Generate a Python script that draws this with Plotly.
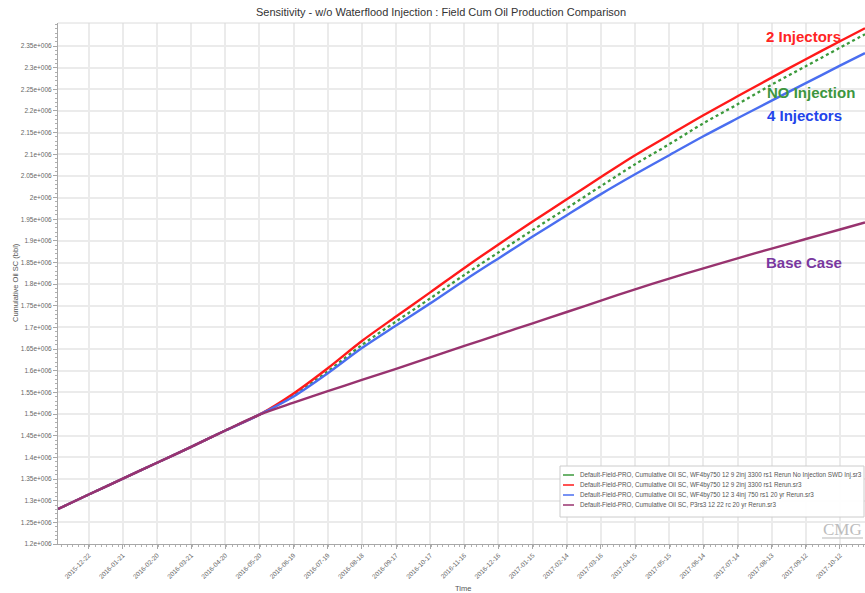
import plotly.graph_objects as go

# ---- data -------------------------------------------------------------
dates = ["2015-11-25", "2015-12-22", "2016-01-21", "2016-02-20", "2016-03-21",
         "2016-04-20", "2016-05-20", "2016-06-19", "2016-07-19", "2016-08-18",
         "2016-09-17", "2016-10-17", "2016-11-16", "2016-12-16", "2017-01-15",
         "2017-02-14", "2017-03-16", "2017-04-15", "2017-05-15", "2017-06-14",
         "2017-07-14", "2017-08-13", "2017-09-12", "2017-10-12", "2017-11-03"]

# history shared by every run, then the forecast of each case (bbl)
shared_history = [1280800, 1314300, 1351000, 1387600, 1424300, 1462100, 1498800]

no_injection = [1543000, 1598900, 1659600, 1713900, 1767200, 1821400, 1873400,
                1925000, 1975500, 2026500, 2076900, 2123300, 2171600, 2215400,
                2260900, 2303400, 2346200, 2377300]
two_injectors = [1547600, 1605800, 1668800, 1725400, 1781100, 1837600, 1891900,
                 1944600, 1996300, 2047300, 2097700, 2144100, 2190100, 2233900,
                 2277100, 2319600, 2361200, 2391200]
four_injectors = [1540700, 1594300, 1652600, 1704600, 1755700, 1808700, 1859600,
                  1910000, 1959300, 2008000, 2053800, 2097900, 2141600, 2183100,
                  2224000, 2264200, 2304600, 2333500]
base_case = [1526600, 1553000, 1578800, 1604600, 1630900, 1657300, 1683400,
             1709700, 1735800, 1762100, 1788200, 1812700, 1836700, 1859800,
             1882200, 1904400, 1926300, 1942500]

series_names = [
    "Default-Field-PRO, Cumulative Oil SC, WF4by750 12 9 2inj 3300 rs1 Rerun No Injection SWD Inj.sr3",
    "Default-Field-PRO, Cumulative Oil SC, WF4by750 12 9 2inj 3300 rs1 Rerun.sr3",
    "Default-Field-PRO, Cumulative Oil SC, WF4by750 12 3 4inj 750 rs1 20 yr Rerun.sr3",
    "Default-Field-PRO, Cumulative Oil SC, P3rs3 12 22 rc 20 yr Rerun.sr3",
]
case_labels = ["NO Injection", "2 Injectors", "4 Injectors", "Base Case"]

x_tickvals = ["2015-12-22", "2016-01-21", "2016-02-20", "2016-03-21", "2016-04-20",
              "2016-05-20", "2016-06-19", "2016-07-19", "2016-08-18", "2016-09-17",
              "2016-10-17", "2016-11-16", "2016-12-16", "2017-01-15", "2017-02-14",
              "2017-03-16", "2017-04-15", "2017-05-15", "2017-06-14", "2017-07-14",
              "2017-08-13", "2017-09-12", "2017-10-12"]

y_tickvals = [1200000, 1250000, 1300000, 1350000, 1400000, 1450000, 1500000,
              1550000, 1600000, 1650000, 1700000, 1750000, 1800000, 1850000,
              1900000, 1950000, 2000000, 2050000, 2100000, 2150000, 2200000,
              2250000, 2300000, 2350000]
y_ticktext = ["1.2e+006", "1.25e+006", "1.3e+006", "1.35e+006", "1.4e+006",
              "1.45e+006", "1.5e+006", "1.55e+006", "1.6e+006", "1.65e+006",
              "1.7e+006", "1.75e+006", "1.8e+006", "1.85e+006", "1.9e+006",
              "1.95e+006", "2e+006", "2.05e+006", "2.1e+006", "2.15e+006",
              "2.2e+006", "2.25e+006", "2.3e+006", "2.35e+006"]

# ---- styling ----------------------------------------------------------
FONT = "Liberation Sans, Arial, sans-serif"
W, H = 865, 593
ML, MR, MT, MB = 58, 0, 23, 49
PW, PH = W - ML - MR, H - MT - MB

line_colors = ["#3c9a3c", "#ff1a1a", "#4a6ef0", "#98336f"]
line_dash = ["dot", "solid", "solid", "solid"]
label_colors = ["#3d9640", "#ff2424", "#2244ea", "#7a38a0"]


def px(x):
    return (x - ML) / PW


def py(y):
    return (H - MB - y) / PH


def note(text, x, y, size, color, family=FONT, **kw):
    return dict(text=text, x=px(x), y=py(y), xref="paper", yref="paper",
                xanchor=kw.pop("xanchor", "center"), yanchor="middle",
                showarrow=False, font=dict(family=family, size=size, color=color), **kw)


fig = go.Figure()
for name, values, color, dash in zip(series_names,
                                     [no_injection, two_injectors, four_injectors, base_case],
                                     line_colors, line_dash):
    fig.add_trace(go.Scatter(
        x=dates, y=shared_history + values, name=name, mode="lines",
        line=dict(color=color, width=2.3 if dash == "dot" else 2.4, dash=dash,
                  shape="spline", smoothing=0.9),
        showlegend=False, hoverinfo="x+y+name",
    ))

annotations = [
    note("Sensitivity - w/o Waterflood Injection : Field Cum Oil Production Comparison",
         441, 12, 11, "#333333"),
    note("Cumulative Oil SC (bbl)", 15, 283, 7.5, "#555555", textangle=-90),
    note("Time", 463, 588, 7.5, "#555555"),
    note("CMG", 842, 529, 17, "#bdbdbd", family="Liberation Serif, serif"),
]

# case labels on the right
label_pos = {"2 Injectors": (803, 37), "NO Injection": (811, 92),
             "4 Injectors": (804, 115), "Base Case": (804, 262)}
for lab, col in zip(case_labels, label_colors):
    lx, ly = label_pos[lab]
    annotations.append(note(f"<b>{lab}</b>", lx, ly, 15, col))

shapes = [
    # top frame line
    dict(type="line", xref="paper", yref="paper", x0=0, x1=1, y0=1, y1=1,
         line=dict(color="#dcdcdc", width=1)),
    # underline of the logo
    dict(type="line", xref="paper", yref="paper", x0=px(822), x1=px(863),
         y0=py(538), y1=py(538), line=dict(color="#cfcfcf", width=1.5)),
    # legend frame
    dict(type="rect", xref="paper", yref="paper", x0=px(560), x1=px(864),
         y0=py(517), y1=py(466), line=dict(color="#cccccc", width=1),
         fillcolor="rgba(255,255,255,0.95)", layer="above"),
]

# legend entries
for i, (name, col) in enumerate(zip(series_names, line_colors)):
    ly = 475 + 10 * i
    shapes.append(dict(type="line", xref="paper", yref="paper", x0=px(563), x1=px(574),
                       y0=py(ly), y1=py(ly), line=dict(color=col, width=1.5),
                       layer="above"))
    annotations.append(note(name, 578, ly, 6.3, "#555555", xanchor="left"))

axis_common = dict(showline=True, linecolor="#a8a8a8", linewidth=1, ticks="outside",
                   ticklen=4, tickcolor="#a8a8a8", showgrid=True, gridcolor="#ebebeb",
                   gridwidth=1.5, zeroline=False,
                   tickfont=dict(family=FONT, size=6.5, color="#666666"))

fig.update_layout(
    width=W, height=H, margin=dict(l=ML, r=MR, t=MT, b=MB),
    paper_bgcolor="white", plot_bgcolor="white",
    xaxis=dict(axis_common, type="date", range=["2015-11-25", "2017-11-03"],
               tickmode="array", tickvals=x_tickvals, ticktext=x_tickvals,
               tickangle=-45,
               minor=dict(dtick=5 * 86400000, ticks="outside", ticklen=2,
                          tickcolor="#b0b0b0", showgrid=False)),
    yaxis=dict(axis_common, range=[1200000, 2403200], tickmode="array",
               tickvals=y_tickvals, ticktext=y_ticktext,
               minor=dict(dtick=10000, ticks="outside", ticklen=2,
                          tickcolor="#b0b0b0", showgrid=False)),
    annotations=annotations, shapes=shapes, showlegend=False,
)

fig.write_html("out.html")
